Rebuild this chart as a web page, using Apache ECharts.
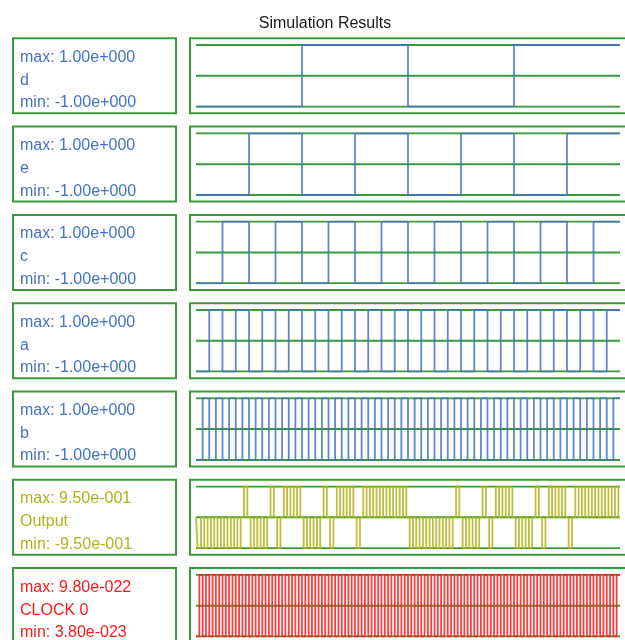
<!DOCTYPE html>
<html>
<head>
<meta charset="utf-8">
<title>Simulation Results</title>
<script src="https://cdn.jsdelivr.net/npm/echarts@6/dist/echarts.min.js"></script>
<style>
	html,body{margin:0;padding:0;background:#fff;}
	#main{width:625px;height:640px;}
</style>
</head>
<body>
<div id="main"></div>
<script>
// signal names, top to bottom
var names = ['d', 'e', 'c', 'a', 'b', 'Output', 'CLOCK 0'];
var maxLabels = ['1.00e+000', '1.00e+000', '1.00e+000', '1.00e+000', '1.00e+000', '9.50e-001', '9.80e-022'];
var minLabels = ['-1.00e+000', '-1.00e+000', '-1.00e+000', '-1.00e+000', '-1.00e+000', '-9.50e-001', '3.80e-023'];
var maxValues = [1, 1, 1, 1, 1, 0.95, 9.8e-22];
var minValues = [-1, -1, -1, -1, -1, -0.95, 3.8e-23];

// levels of each signal per time slot (0 = min, 1 = max)
var dBits = [0,1,0,1];
var eBits = [0,1,0,1,0,1,0,1];
var cBits = [0,1,0,1,0,1,0,1,0,1,0,1,0,1,0,1];
var aBits = [0,1,0,1,0,1,0,1,0,1,0,1,0,1,0,1,0,1,0,1,0,1,0,1,0,1,0,1,0,1,0,1];
var bBits = [0,1,0,1,0,1,0,1,0,1,0,1,0,1,0,1,0,1,0,1,0,1,0,1,0,1,0,1,0,1,0,1,
             0,1,0,1,0,1,0,1,0,1,0,1,0,1,0,1,0,1,0,1,0,1,0,1,0,1,0,1,0,1,0,1];
var clkBits = [0,1,0,1,0,1,0,1,0,1,0,1,0,1,0,1,0,1,0,1,0,1,0,1,0,1,0,1,0,1,0,1,
               0,1,0,1,0,1,0,1,0,1,0,1,0,1,0,1,0,1,0,1,0,1,0,1,0,1,0,1,0,1,0,1,
               0,1,0,1,0,1,0,1,0,1,0,1,0,1,0,1,0,1,0,1,0,1,0,1,0,1,0,1,0,1,0,1,
               0,1,0,1,0,1,0,1,0,1,0,1,0,1,0,1,0,1,0,1,0,1,0,1,0,1,0,1,0,1,0,1];
// output pulses, one per b half period (+1 up to max, -1 down to min)
var outPulse = [-1,-1,-1,-1,-1,-1,-1, 1,-1,-1,-1, 1,-1, 1, 1, 1,
                -1,-1,-1, 1,-1, 1, 1, 1,-1, 1, 1, 1, 1, 1, 1, 1,
                -1,-1,-1,-1,-1,-1,-1, 1,-1,-1,-1, 1,-1, 1, 1, 1,
                -1,-1,-1, 1,-1, 1, 1, 1,-1, 1, 1, 1, 1, 1, 1, 1];

var totalTime = 128;
var outDelay = 0.5;
var colors = ['#4472c4', '#4472c4', '#4472c4', '#4472c4', '#4472c4', '#b2b21c', '#ff1a1a'];
var green = '#3a9a3a';

//行布局
var rowTop = 38.3;
var rowStep = 88.3;
var boxH = 75;

//把电平数组变成阶梯线的点
function bitsToData(bits, lo, hi){
	var dt = totalTime / bits.length;
	var out = [];
	for(var i=0;i<bits.length;i++){
		out.push([i*dt, bits[i] ? hi : lo]);
	}
	out.push([totalTime, bits[bits.length-1] ? hi : lo]);
	return out;
}

function pulseToData(pulses, lo, hi){
	var mid = (lo + hi) / 2;
	var dt = totalTime / pulses.length;
	var out = [[0, mid]];
	for(var i=0;i<pulses.length;i++){
		out.push([i*dt + outDelay, pulses[i] > 0 ? hi : lo]);
		out.push([i*dt + dt/2 + outDelay, mid]);
	}
	out.push([totalTime, mid]);
	return out;
}

var waves = [
	bitsToData(dBits, minValues[0], maxValues[0]),
	bitsToData(eBits, minValues[1], maxValues[1]),
	bitsToData(cBits, minValues[2], maxValues[2]),
	bitsToData(aBits, minValues[3], maxValues[3]),
	bitsToData(bBits, minValues[4], maxValues[4]),
	pulseToData(outPulse, minValues[5], maxValues[5]),
	bitsToData(clkBits, minValues[6], maxValues[6])
];

var grids = [], xAxes = [], yAxes = [], seriesList = [], graphics = [];

for(var i=0;i<names.length;i++){
	var rowY = rowTop + rowStep*i;
	var lo = minValues[i], hi = maxValues[i], mid = (lo+hi)/2;

	grids.push({left:196, right:5, top:rowY+6.7, height:61.7});
	xAxes.push({gridIndex:i, type:'value', min:0, max:totalTime, show:false});
	yAxes.push({gridIndex:i, type:'value', min:lo, max:hi, show:false, scale:true});

	//绿色参考线
	var levels = [lo, mid, hi];
	for(var k=0;k<levels.length;k++){
		seriesList.push({
			type:'line', xAxisIndex:i, yAxisIndex:i, silent:true,
			symbol:'none', animation:false, z:1,
			lineStyle:{color:green, width:2},
			data:[[0, levels[k]], [totalTime, levels[k]]]
		});
	}

	//波形
	seriesList.push({
		name:names[i], type:'line', xAxisIndex:i, yAxisIndex:i,
		step:'end', symbol:'none', animation:false, z:2,
		lineStyle:{color:colors[i], width:1.8, opacity:0.85},
		data:waves[i]
	});

	//左边标签框和右边面板框
	graphics.push({
		type:'rect', shape:{x:13, y:rowY, width:163, height:boxH},
		style:{fill:'none', stroke:green, lineWidth:2}, silent:true
	});
	graphics.push({
		type:'rect', shape:{x:190, y:rowY, width:460, height:boxH},
		style:{fill:'none', stroke:green, lineWidth:2}, silent:true
	});

	var txt = [['max: '+maxLabels[i], 19], [names[i], 42], ['min: '+minLabels[i], 64.5]];
	for(var t=0;t<txt.length;t++){
		graphics.push({
			type:'text', x:20, y:rowY+txt[t][1], silent:true,
			style:{
				text:txt[t][0], fill:colors[i],
				font:'16px "Liberation Sans", Arial, sans-serif',
				verticalAlign:'middle', align:'left'
			}
		});
	}
}

var myChart = echarts.init(document.getElementById('main'));
myChart.setOption({
	animation:false,
	title:{
		text:'Simulation Results', left:320, top:11, textAlign:'center',
		textStyle:{fontSize:16, fontWeight:'normal', color:'#1a1a1a', fontFamily:'"Liberation Sans", Arial, sans-serif'}
	},
	grid:grids,
	xAxis:xAxes,
	yAxis:yAxes,
	series:seriesList,
	graphic:graphics
});
</script>
</body>
</html>
